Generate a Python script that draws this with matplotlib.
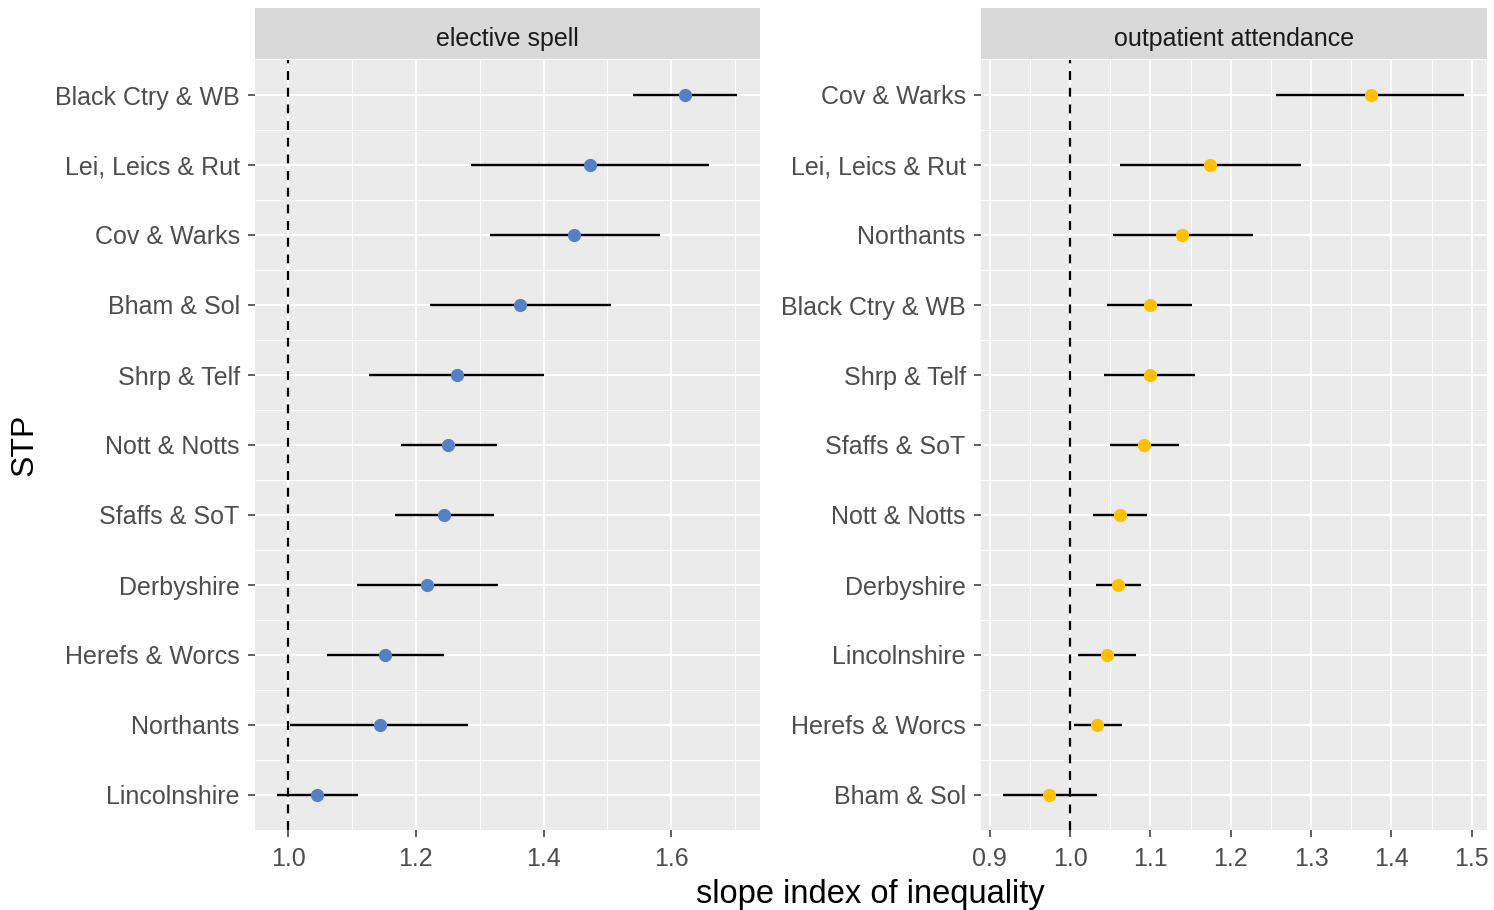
import numpy as np
import matplotlib
matplotlib.use("Agg")
import matplotlib.pyplot as plt
from matplotlib.ticker import MultipleLocator

plt.rcParams["font.family"] = ["Liberation Sans", "DejaVu Sans"]

# ── Daten (von oben nach unten) ──────────────────────────────────────────────
elective_stp = ["Black Ctry & WB", "Lei, Leics & Rut", "Cov & Warks", "Bham & Sol",
                "Shrp & Telf", "Nott & Notts", "Sfaffs & SoT", "Derbyshire",
                "Herefs & Worcs", "Northants", "Lincolnshire"]
elective_sii = [1.622, 1.473, 1.448, 1.363, 1.264, 1.251, 1.244, 1.218, 1.152, 1.144, 1.045]
elective_lo = [1.540, 1.287, 1.316, 1.222, 1.127, 1.177, 1.168, 1.108, 1.061, 1.003, 0.982]
elective_hi = [1.703, 1.659, 1.582, 1.506, 1.400, 1.327, 1.322, 1.328, 1.244, 1.282, 1.109]

outpat_stp = ["Cov & Warks", "Lei, Leics & Rut", "Northants", "Black Ctry & WB",
              "Shrp & Telf", "Sfaffs & SoT", "Nott & Notts", "Derbyshire",
              "Lincolnshire", "Herefs & Worcs", "Bham & Sol"]
outpat_sii = [1.374, 1.174, 1.139, 1.099, 1.099, 1.092, 1.062, 1.060, 1.046, 1.034, 0.974]
outpat_lo = [1.256, 1.062, 1.053, 1.046, 1.042, 1.049, 1.028, 1.032, 1.010, 1.005, 0.916]
outpat_hi = [1.490, 1.287, 1.228, 1.152, 1.156, 1.135, 1.096, 1.088, 1.082, 1.065, 1.033]

# ── Figure ───────────────────────────────────────────────────────────────────
W, H = 1494, 910
fig = plt.figure(figsize=(W / 100, H / 100), dpi=100)

def px_box(x0, y0, x1, y1):
    return [x0 / W, 1 - y1 / H, (x1 - x0) / W, (y1 - y0) / H]

panels = [
    dict(title="elective spell", stp=elective_stp, sii=elective_sii, lo=elective_lo,
         hi=elective_hi, color="#5581C4", box=(255, 60, 760, 830),
         xlim=(0.948, 1.739), major=0.2, minor=0.1, fmt="{:.1f}"),
    dict(title="outpatient attendance", stp=outpat_stp, sii=outpat_sii, lo=outpat_lo,
         hi=outpat_hi, color="#FFC000", box=(981, 60, 1487, 830),
         xlim=(0.889, 1.519), major=0.1, minor=0.05, fmt="{:.1f}"),
]

for p in panels:
    x0, y0, x1, y1 = p["box"]
    ax = fig.add_axes(px_box(x0, y0, x1, y1))
    ax.set_facecolor("#EBEBEB")
    n = len(p["stp"])
    y = np.arange(n)[::-1]

    ax.axvline(1.0, color="black", linestyle=(0, (4, 3.5)), linewidth=1.6, zorder=2)
    ax.hlines(y, p["lo"], p["hi"], color="black", linewidth=1.7, zorder=3)
    ax.plot(p["sii"], y, "o", color=p["color"], markersize=8.5, zorder=4)

    ax.set_xlim(*p["xlim"])
    ax.set_ylim(-0.5, n - 0.5)
    ax.xaxis.set_major_locator(MultipleLocator(p["major"]))
    ax.xaxis.set_minor_locator(MultipleLocator(p["minor"]))
    ax.set_yticks(y)
    ax.set_yticks(np.arange(n - 1) + 0.5, minor=True)
    ax.set_yticklabels(p["stp"])

    ax.grid(which="major", color="white", linewidth=1.5, zorder=0)
    ax.grid(which="minor", color="white", linewidth=0.75, zorder=0)
    ax.set_axisbelow(True)
    for s in ax.spines.values():
        s.set_visible(False)

    ax.tick_params(which="major", length=5, width=1.1, color="#333333",
                   labelsize=18, labelcolor="#4D4D4D")
    ax.tick_params(which="minor", length=0)
    ticks = [t for t in ax.get_xticks() if p["xlim"][0] <= t <= p["xlim"][1]]
    ax.set_xticks(ticks)
    ax.set_xticklabels([p["fmt"].format(t) for t in ticks])
    ax.tick_params(axis="x", pad=7)
    ax.tick_params(axis="y", pad=6)

    # Streifen mit Facettentitel
    strip = fig.add_axes(px_box(x0, 8, x1, y0 - 1))
    strip.set_facecolor("#D9D9D9")
    strip.set_xticks([])
    strip.set_yticks([])
    for s in strip.spines.values():
        s.set_visible(False)
    strip.text(0.5, 0.4, p["title"], ha="center", va="center", fontsize=18,
               color="#1A1A1A", transform=strip.transAxes)

# ── Achsentitel ──────────────────────────────────────────────────────────────
fig.text(870 / W, 1 - 894 / H, "slope index of inequality", ha="center", va="center",
         fontsize=23.5, color="black")
fig.text(25 / W, 1 - 445 / H, "STP", ha="center", va="center", rotation=90,
         fontsize=23, color="black")

fig.savefig("out.png", dpi=100, facecolor="white")
